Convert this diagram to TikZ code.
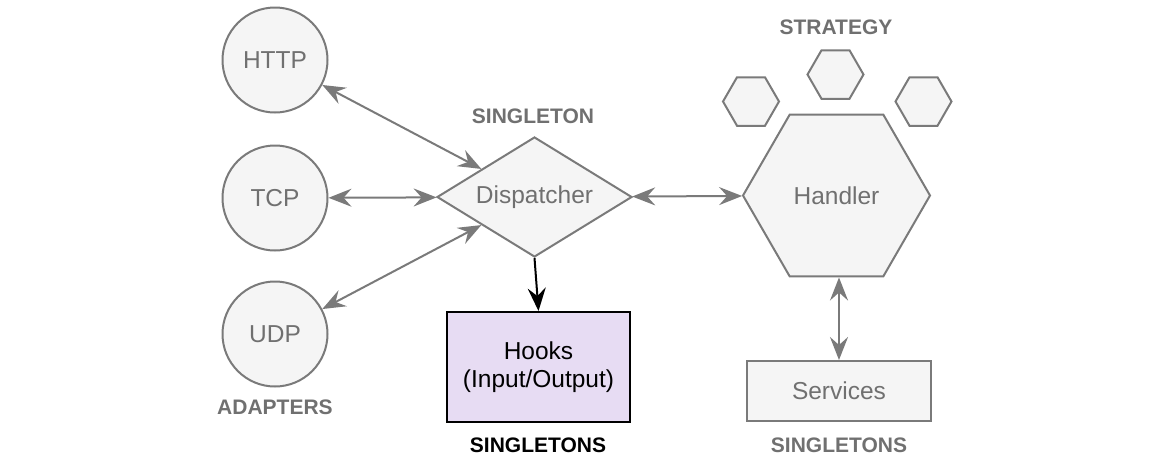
\documentclass[tikz,border=0pt]{standalone}
\usepackage{fontspec}
\setmainfont{Liberation Sans}
\usetikzlibrary{shapes.geometric,arrows.meta}
\definecolor{lineg}{HTML}{7A7A7A}
\definecolor{textg}{HTML}{707070}
\definecolor{fillg}{HTML}{F5F5F5}
\definecolor{hookfill}{HTML}{E7DCF3}
\tikzset{
  x=1pt,y=-1pt,
  mytip/.tip={Stealth[length=23pt,width=18pt,inset=8pt]},
  txt/.style={font=\fontsize{24.5}{28}\selectfont},
  lbl/.style={font=\fontsize{21}{24}\selectfont\bfseries, text=textg},
  gnode/.style={draw=lineg, fill=fillg, line width=2pt, text=textg, txt, inner sep=0pt},
  adapter/.style={gnode, circle, minimum size=105pt},
  hexa/.style={gnode, regular polygon, regular polygon sides=6},
  link/.style={draw=lineg, line width=2pt, {mytip}-{mytip}},
}
\begin{document}
\begin{tikzpicture}
\useasboundingbox (0,0) rectangle (1168,472);
\node[adapter] (http) at (275,60) {HTTP};
\node[adapter] (tcp) at (275,198) {TCP};
\node[adapter] (udp) at (275,334) {UDP};
\node[lbl] (adl) at (275,407) {ADAPTERS};
\node[gnode, diamond, minimum width=195pt, minimum height=120pt] (disp) at (534.5,197) {};
\node[txt, text=textg] (disptxt) at (disp.center) {Dispatcher};
\node[lbl] (sgl) at (533,116) {SINGLETON};
\node[draw=black, fill=hookfill, line width=2pt, minimum width=183pt, minimum height=110pt, txt, align=center, inner sep=0pt] (hooks) at (538.5,367) {Hooks\\(Input/Output)};
\node[lbl, text=black] (sgl2) at (538,445) {SINGLETONS};
\node[hexa, minimum size=187pt] (handler) at (836.5,195.5) {Handler};
\node[hexa, minimum size=56pt] (h1) at (751,101.5) {};
\node[hexa, minimum size=56pt] (h2) at (835.5,74.5) {};
\node[hexa, minimum size=56pt] (h3) at (923.5,101.5) {};
\node[lbl] (strat) at (836,27) {STRATEGY};
\node[gnode, minimum width=184pt, minimum height=60pt] (serv) at (839,391) {Services};
\node[lbl] (sgl3) at (839,445) {SINGLETONS};
\draw[link] (http) -- (disp);
\draw[link] (tcp) -- (disp);
\draw[link] (udp) -- (disp);
\draw[link] (disp) -- (handler);
\draw[link] (handler.south -| serv.north) -- (serv.north);
\draw[line width=2pt, -{mytip}] (disp.south) -- (hooks.north);
\end{tikzpicture}
\end{document}
